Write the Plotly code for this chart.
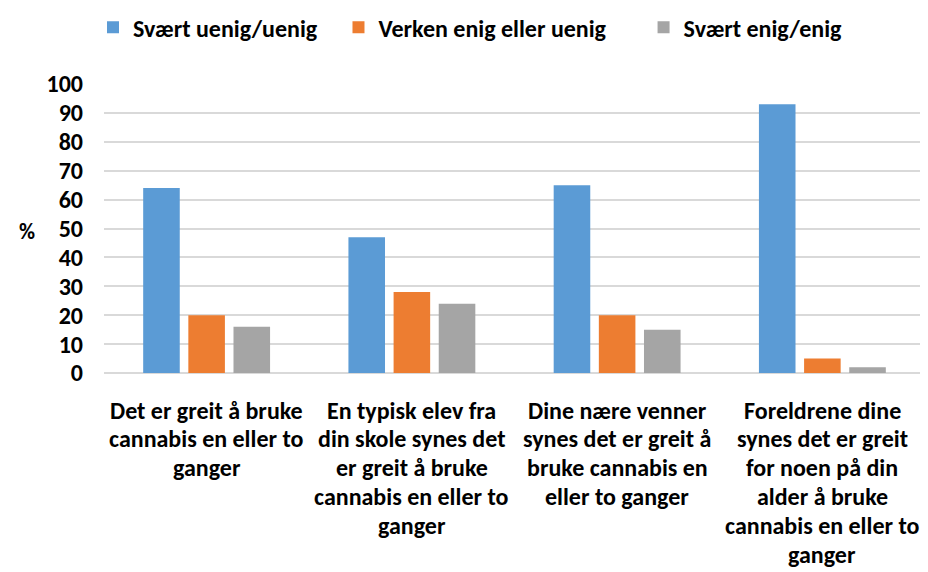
import plotly.graph_objects as go

# ---- data ----
label_lines = [
    ["Det er greit å bruke", "cannabis en eller to", "ganger"],
    ["En typisk elev fra", "din skole synes det", "er greit å bruke", "cannabis en eller to", "ganger"],
    ["Dine nære venner", "synes det er greit å", "bruke cannabis en", "eller to ganger"],
    ["Foreldrene dine", "synes det er greit", "for noen på din", "alder å bruke", "cannabis en eller to", "ganger"],
]
categories = [" ".join(l) for l in label_lines]

series_names = ["Svært uenig/uenig", "Verken enig eller uenig", "Svært enig/enig"]
uenig = [64, 47, 65, 93]
verken = [20, 28, 20, 5]
enig = [16, 24, 15, 2]
y_ticks = [0, 10, 20, 30, 40, 50, 60, 70, 80, 90, 100]

colors = ["#5B9BD5", "#ED7D31", "#A5A5A5"]
FONT = "Carlito, 'Liberation Sans Narrow', 'DejaVu Sans Condensed', sans-serif"
FS = 24
PADS = ["&nbsp;" * 3, "&nbsp;" * 6, ""]

fig = go.Figure()
for name, vals, c, pad in zip(series_names, [uenig, verken, enig], colors, PADS):
    fig.add_trace(go.Bar(x=categories, y=vals, name=f"<b>{name}</b>{pad}",
                         marker=dict(color=c, line=dict(width=0))))

# category labels, one annotation per line
for cat, lines in zip(categories, label_lines):
    for i, line in enumerate(lines):
        fig.add_annotation(
            x=cat, y=0, xref="x", yref="y", text=f"<b>{line}</b>", showarrow=False,
            yshift=-(37 + 28.9 * i), yanchor="middle", xanchor="center",
            font=dict(family=FONT, size=FS, color="#000000"),
        )

fig.add_annotation(
    x=-0.094, y=49, xref="x domain", yref="y", text="<b>%</b>", showarrow=False,
    xanchor="center", yanchor="middle",
    font=dict(family=FONT, size=FS - 2, color="#000000"),
)

# page body has an 8px margin, so the figure is sized/offset accordingly
fig.update_layout(
    width=920, height=564,
    margin=dict(l=96, r=3, t=76, b=199, autoexpand=False),
    paper_bgcolor="white", plot_bgcolor="white",
    barmode="group", bargap=0.34, bargroupgap=0.19,
    font=dict(family=FONT, size=FS, color="#000000"),
    legend=dict(
        orientation="h", x=85 / 920, xanchor="left", xref="container",
        y=0.965, yanchor="middle", yref="container",
        font=dict(family=FONT, size=FS, color="#000000"),
        traceorder="normal", itemwidth=30,
    ),
    showlegend=True,
)
fig.update_xaxes(showticklabels=False, showgrid=False, zeroline=False, showline=False)
fig.update_yaxes(
    range=[0, 100], tickvals=y_ticks, ticktext=[f"<b>{v}</b>" for v in y_ticks],
    showgrid=True, gridcolor="#D9D9D9", gridwidth=1.5, zeroline=True,
    zerolinecolor="#D9D9D9", zerolinewidth=1.5, ticklabelstandoff=20,
    tickfont=dict(family=FONT, size=FS, color="#000000"),
)

fig.write_html("out.html")
